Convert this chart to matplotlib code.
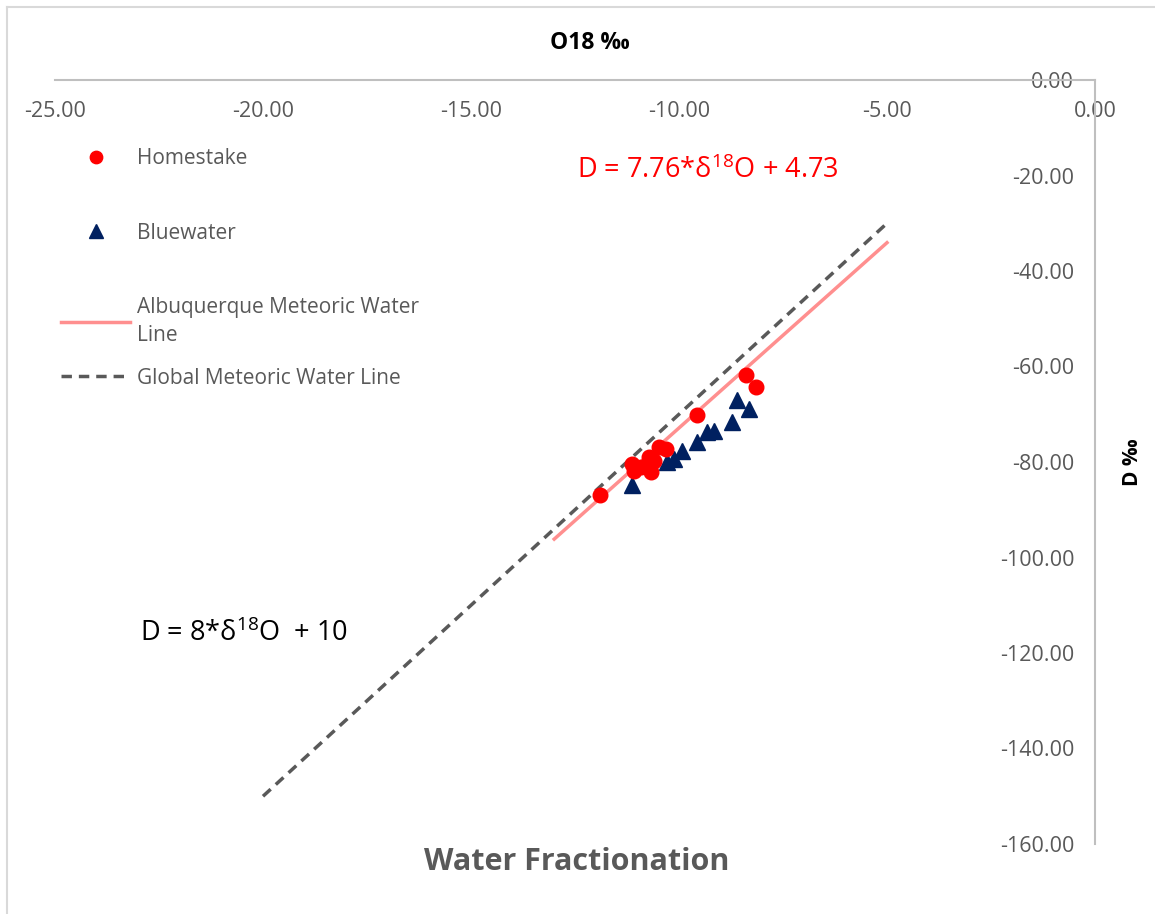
import matplotlib
matplotlib.use("Agg")
import matplotlib.pyplot as plt
from matplotlib.lines import Line2D
import numpy as np

plt.rcParams['font.family'] = ['Open Sans', 'DejaVu Sans']
plt.rcParams['mathtext.default'] = 'regular'

# Données
homestake_o18 = [-11.90, -11.12, -11.08, -10.92, -10.72, -10.68, -10.60,
                 -10.48, -10.32, -9.56, -8.40, -8.14]
homestake_d = [-87.0, -80.4, -81.8, -81.1, -79.0, -82.1, -79.7,
               -76.9, -77.2, -70.2, -61.8, -64.3]

bluewater_o18 = [-11.12, -10.28, -10.12, -9.92, -9.56, -9.32, -9.16,
                 -8.72, -8.60, -8.32]
bluewater_d = [-84.9, -80.0, -79.3, -77.6, -75.8, -73.7, -73.5,
               -71.6, -67.1, -68.8]

# Droites météoriques
almwl_x = [-13.0, -5.0]
almwl_slope, almwl_icpt = 7.76, 4.73
gmwl_x = [-20.0, -5.0]
gmwl_slope, gmwl_icpt = 8.0, 10.0

x_ticks = [-25, -20, -15, -10, -5, 0]
y_ticks = [0, -20, -40, -60, -80, -100, -120, -140, -160]

CINZA = '#595959'
EIXO = '#BFBFBF'

fig = plt.figure(figsize=(11.55, 9.14), dpi=100)
ax = fig.add_axes([55 / 1155, 1 - 844 / 914, 1040 / 1155, 764 / 914])

ax.plot(bluewater_o18, bluewater_d, '^', color='#002060', markersize=12,
        linestyle='none', label='Bluewater', zorder=3)
ax.plot(homestake_o18, homestake_d, 'o', color='#FF0000', markersize=10.5,
        linestyle='none', label='Homestake', zorder=4)

xa = np.array(almwl_x)
ax.plot(xa, almwl_slope * xa + almwl_icpt, color='#FF8F8F', linewidth=2.5,
        label='Albuquerque Meteoric Water\nLine', zorder=2)
xg = np.array(gmwl_x)
ax.plot(xg, gmwl_slope * xg + gmwl_icpt, color=CINZA, linewidth=2.5,
        linestyle=(0, (3, 2)), label='Global Meteoric Water Line', zorder=2)

ax.set_xlim(-25, 0)
ax.set_ylim(-160, 0)
ax.set_xticks(x_ticks)
ax.set_yticks(y_ticks)
ax.xaxis.set_major_formatter(lambda v, p: f"{v:.2f}")
ax.yaxis.set_major_formatter(lambda v, p: f"{v:.2f}")

# Eixos no estilo Excel: cruzando em (0, 0)
ax.spines['bottom'].set_position(('data', 0))
ax.spines['left'].set_position(('data', 0))
ax.spines['top'].set_visible(False)
ax.spines['right'].set_visible(False)
for s in ('bottom', 'left'):
    ax.spines[s].set_color(EIXO)
    ax.spines[s].set_linewidth(1.5)
ax.tick_params(axis='both', length=0, labelsize=15.5, labelcolor=CINZA)
ax.tick_params(axis='x', pad=15)
ax.tick_params(axis='y', pad=15)

# Legenda em duas partes para imitar o espaçamento do Excel
handles, labels = ax.get_legend_handles_labels()
opts = dict(frameon=False, fontsize=15, labelcolor=CINZA,
            handlelength=3.3, handletextpad=0.35, markerscale=0.85)
ordem = [1, 0, 2]
leg1 = ax.legend([handles[i] for i in ordem], [labels[i] for i in ordem],
                 loc='upper left', bbox_to_anchor=(-0.012, 0.935),
                 labelspacing=2.55, **opts)
for t in leg1.get_texts():
    t.set_linespacing(1.45)
ax.add_artist(leg1)
leg2 = ax.legend([handles[3]], [labels[3]], loc='center left',
                 bbox_to_anchor=(-0.012, (844 - 378) / 764), **opts)

ax.text(-12.45, -19, r"D = 7.76*δ$^{18}$O + 4.73", color='#FF0000',
        fontsize=19.5, va='center', ha='left')
ax.text(-22.95, -116, r"D = 8*δ$^{18}$O  + 10", color='black',
        fontsize=19.5, va='center', ha='left')

fig.text(590 / 1155, 1 - 43 / 914, "O18 ‰", fontsize=16.5, fontweight='bold',
         ha='center', va='center')
fig.text(1132 / 1155, 1 - 462 / 914, "D ‰", fontsize=15, fontweight='bold',
         ha='center', va='center', rotation=90)
fig.text(577 / 1155, 1 - 862 / 914, "Water Fractionation", fontsize=22,
         fontweight='bold', color=CINZA, ha='center', va='center')

# Moldura do gráfico (só topo e esquerda visíveis)
fig.add_artist(Line2D([7 / 1155, 1], [1 - 7 / 914, 1 - 7 / 914],
                      color='#D9D9D9', linewidth=1.5))
fig.add_artist(Line2D([7 / 1155, 7 / 1155], [0, 1 - 7 / 914],
                      color='#D9D9D9', linewidth=1.5))

fig.savefig("out.png", dpi=100, facecolor='white')
